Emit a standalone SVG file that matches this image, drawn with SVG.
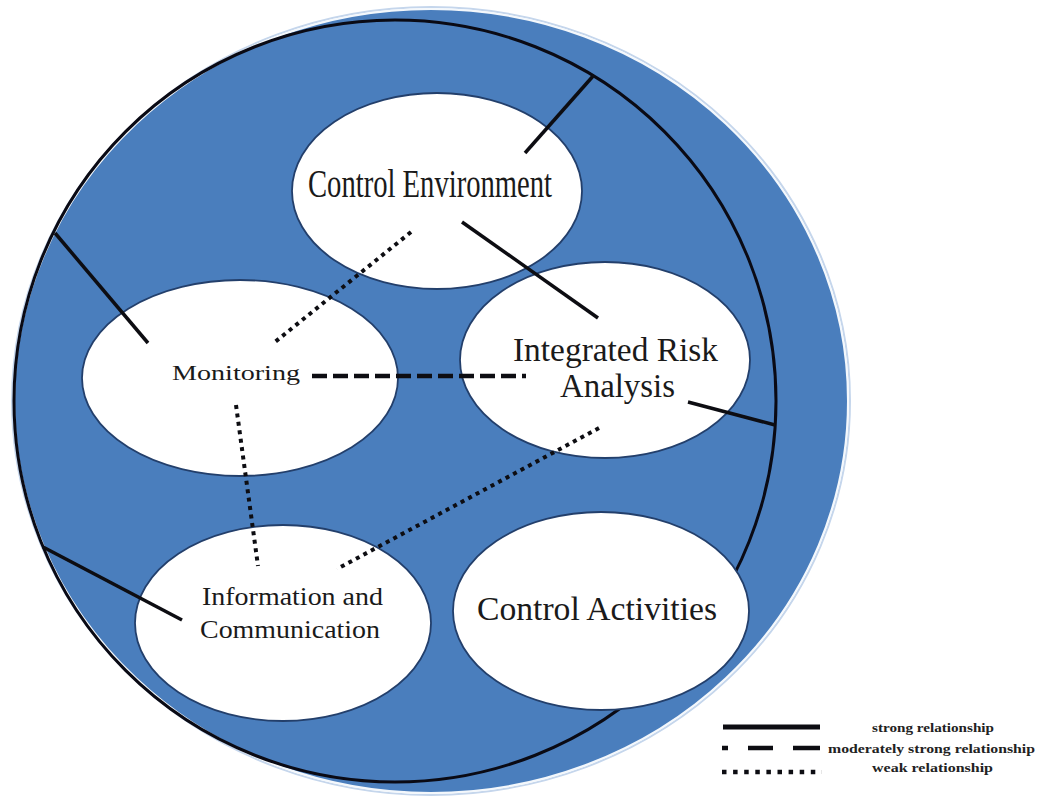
<svg xmlns="http://www.w3.org/2000/svg" width="1043" height="801" viewBox="0 0 1043 801">
  <style>
    .node { fill: #ffffff; stroke: #233f6b; stroke-width: 1.8; }
    .lbl { font-family: "Liberation Serif", "DejaVu Serif", serif; fill: #1a1a1a; }
    .strong { stroke: #0d0d12; stroke-width: 3.5; fill: none; }
    .moderate { stroke: #0d0d12; stroke-width: 4.5; fill: none; stroke-dasharray: 15 6; }
    .weak { stroke: #0d0d12; stroke-width: 4; fill: none; stroke-dasharray: 4 4.5; }
    .leg { font-family: "Liberation Serif", "DejaVu Serif", serif; font-size: 12.5px; font-weight: bold; fill: #222; }
  </style>
  <rect width="1043" height="801" fill="#ffffff"/>
  <g id="background">
    <ellipse cx="431" cy="401" rx="419" ry="394" fill="none" stroke="#c5d6ec" stroke-width="2"/>
    <ellipse cx="431" cy="401" rx="417" ry="392" fill="#4a7ebd" stroke="#f4f8fc" stroke-width="2"/>
    <circle cx="395" cy="401" r="381" fill="none" stroke="#0a0a14" stroke-width="3"/>
  </g>
  <g id="node-control-environment">
    <ellipse class="node" cx="437" cy="191" rx="145" ry="98"/>
    <text class="lbl" x="308" y="197" font-size="40" textLength="244" lengthAdjust="spacingAndGlyphs">Control Environment</text>
  </g>
  <g id="node-integrated-risk-analysis">
    <ellipse class="node" cx="605" cy="360" rx="145" ry="98"/>
    <text class="lbl" x="513" y="361" font-size="34" textLength="205" lengthAdjust="spacingAndGlyphs">Integrated Risk</text>
    <text class="lbl" x="560" y="397" font-size="34" textLength="115" lengthAdjust="spacingAndGlyphs">Analysis</text>
  </g>
  <g id="node-monitoring">
    <ellipse class="node" cx="240" cy="378" rx="158" ry="98"/>
    <text class="lbl" x="172" y="380" font-size="22" textLength="128" lengthAdjust="spacingAndGlyphs">Monitoring</text>
  </g>
  <g id="node-information-communication">
    <ellipse class="node" cx="283" cy="623" rx="148" ry="98"/>
    <text class="lbl" x="202" y="605" font-size="25" textLength="181" lengthAdjust="spacingAndGlyphs">Information and</text>
    <text class="lbl" x="200" y="638" font-size="25" textLength="180" lengthAdjust="spacingAndGlyphs">Communication</text>
  </g>
  <g id="node-control-activities">
    <ellipse class="node" cx="601" cy="611" rx="148" ry="99"/>
    <text class="lbl" x="477" y="620" font-size="34" textLength="240" lengthAdjust="spacingAndGlyphs">Control Activities</text>
  </g>
  <g id="connectors">
    <line class="strong" x1="525" y1="153" x2="594" y2="75"/>
    <line class="strong" x1="462" y1="222" x2="598" y2="318"/>
    <line class="strong" x1="688" y1="402" x2="775" y2="425"/>
    <line class="strong" x1="55" y1="233" x2="148" y2="343"/>
    <line class="strong" x1="43" y1="547" x2="182" y2="620"/>
    <line class="moderate" x1="312" y1="376" x2="526" y2="376"/>
    <line class="weak" x1="411" y1="232" x2="275" y2="342"/>
    <line class="weak" x1="236" y1="405" x2="258" y2="566"/>
    <line class="weak" x1="599" y1="428" x2="337" y2="569"/>
  </g>
  <g id="legend">
    <line x1="723" y1="727" x2="820" y2="727" stroke="#0d0d12" stroke-width="5"/>
    <line x1="722" y1="748" x2="820" y2="748" stroke="#0d0d12" stroke-width="4.5" stroke-dasharray="6 20 25 20 27"/>
    <line x1="722" y1="772" x2="822" y2="772" stroke="#0d0d12" stroke-width="4.5" stroke-dasharray="4.5 6.6"/>
    <text class="leg" x="872" y="732" textLength="122" lengthAdjust="spacingAndGlyphs">strong relationship</text>
    <text class="leg" x="828" y="753" textLength="207" lengthAdjust="spacingAndGlyphs">moderately strong relationship</text>
    <text class="leg" x="872" y="772" textLength="121" lengthAdjust="spacingAndGlyphs">weak relationship</text>
  </g>
</svg>
